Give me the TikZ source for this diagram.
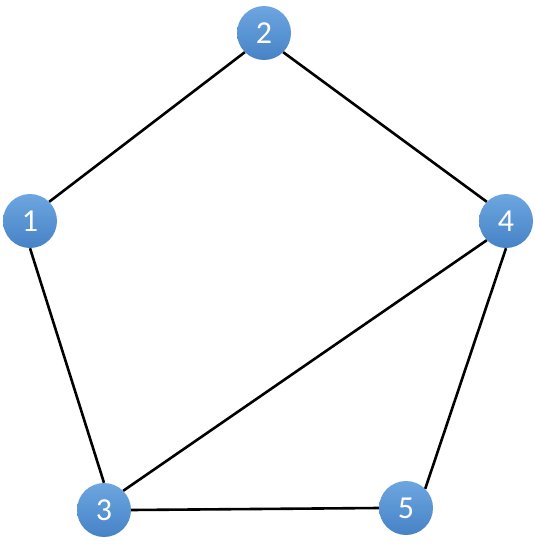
\documentclass[tikz,border=0pt]{standalone}
\usepackage{fontspec}
\setsansfont{Carlito}
\usepackage{tikz}
\definecolor{vtxtop}{HTML}{6DA6E0}
\definecolor{vtxbot}{HTML}{4683C6}
\tikzset{
	vertex/.style={circle, minimum size=54pt, inner sep=0pt, top color=vtxtop, bottom color=vtxbot, draw=none, text=white, font=\sffamily\fontsize{32}{32}\selectfont},
	edge/.style={line width=2.6pt, black}
}

\begin{document}
\begin{tikzpicture}[x=1pt, y=-1pt]
			%%%%% START %%%%%
			\useasboundingbox (0, 0) rectangle (535, 549);
			
			\node[vertex] (v1) at (30, 221) {1};
			\node[vertex] (v2) at (264, 33) {2};
			\node[vertex] (v3) at (104, 510) {3};
			\node[vertex] (v4) at (506, 221) {4};
			\node[vertex] (v5) at (406, 508) {5};
			
			\draw[edge] (v1.north east) -- (v2.south west);
			\draw[edge] (v2.south east) -- (v4.north west);
			\draw[edge] (v1.south) -- (v3.north);
			\draw[edge] (v3.north east) -- (v4.south west);
			\draw[edge] (v3.east) -- (v5.west);
			\draw[edge] (v4.south) -- (v5.north east);
			
			%%%%% END %%%%%
		\end{tikzpicture}
\end{document}
